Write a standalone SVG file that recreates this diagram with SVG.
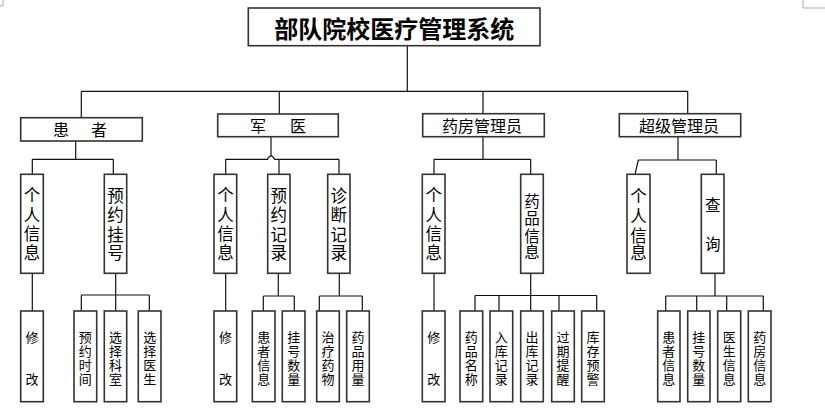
<svg xmlns="http://www.w3.org/2000/svg" width="825" height="410" viewBox="0 0 825 410">
<style>
.b{fill:#fff;stroke:#333;stroke-width:1.6}
.c{fill:none;stroke:#111;stroke-width:1.2}
.m{fill:none;stroke:#aaa;stroke-width:1}
text{font-family:"Noto Sans CJK SC","Noto Sans",sans-serif;fill:#000;text-anchor:middle;dominant-baseline:central}
.t{font-size:24px;font-weight:600}
.l1{font-size:16px}
.l2{font-size:16.5px}
.l2s{font-size:15.5px}
.l3{font-size:13px}
</style>
<rect width="825" height="410" fill="#fff"/>
<path class="m" d="M3,0V6H0M803,0V8H825"/>
<g id="connectors">
<path class="c" d="M407.3,46V91.3M81.3,91.3H687.7M81.3,91.3V117.7M279.3,91.3V114M483,91.3V113.7M687.7,91.3V113.7"/>
<path class="c" d="M75.7,141V159.3M32.3,159.3H113.3M32.3,159.3V174.3M113.3,159.3V174.3"/>
<path class="c" d="M271,136.7V155.5M225.7,159.3H267.5Q271,152.5 274.5,159.3H339M225.7,159.3V174.3M279,159.3V174.3M339,159.3V174.3"/>
<path class="c" d="M483,136.7V159.3M434,159.3H530.7M434,159.3V174.3M530.7,159.3V174.3"/>
<path class="c" d="M678,136.7V160M638.3,160H716.3M638.3,160L635,174.3M716.3,160V174.3"/>
<path class="c" d="M32.3,273.3V311M115.7,273.3V295M81.3,295H149.3M81.3,295V311M115.7,295V311M149.3,295V311"/>
<path class="c" d="M225.7,273.3V311M278.3,273.3V296M263.3,296H294.3M263.3,296V311M294.3,296V311M339.3,273.3V296M319.3,296H362.3M319.3,296V311M362.3,296V311"/>
<path class="c" d="M434,273.3V311M530.7,273.3V295.5M475,295.5H596.7M475,295.5V311M499,295.5V311M530.7,295.5V311M559,295.5V311M596.7,295.5V311"/>
<path class="c" d="M715,273.3V296M665.7,296H763.3M665.7,296V311M696.7,296V311M726.7,296V311M763.3,296V311"/>
</g>
<g id="root"><rect class="b" x="248.3" y="8" width="291.7" height="37.7"/><text class="t" x="394.2" y="27">部队院校医疗管理系统</text></g>
<g id="patient"><rect class="b" x="20.7" y="117.7" width="121.6" height="23.3"/><text class="l1" x="61" y="129.4">患</text><text class="l1" x="99" y="129.4">者</text></g>
<g id="doctor"><rect class="b" x="217.7" y="114" width="120.6" height="22.7"/><text class="l1" x="258" y="125.3">军</text><text class="l1" x="298" y="125.3">医</text></g>
<g id="pharmacist"><rect class="b" x="422.7" y="113.7" width="121.6" height="23"/><text class="l1" x="482" y="125.2">药房管理员</text></g>
<g id="superadmin"><rect class="b" x="619.3" y="113.7" width="121.4" height="23"/><text class="l1" x="679" y="125.2">超级管理员</text></g>

<g id="p-info"><rect class="b" x="20.7" y="174.3" width="22.6" height="99"/><text class="l2"><tspan x="32" y="194">个</tspan><tspan x="32" y="214">人</tspan><tspan x="32" y="233">信</tspan><tspan x="32" y="252">息</tspan></text></g>
<g id="p-reg"><rect class="b" x="104.3" y="174.3" width="22.4" height="99"/><text class="l2"><tspan x="115.5" y="195">预</tspan><tspan x="115.5" y="214">约</tspan><tspan x="115.5" y="234">挂</tspan><tspan x="115.5" y="252">号</tspan></text></g>
<g id="d-info"><rect class="b" x="214" y="174.3" width="22.7" height="99"/><text class="l2"><tspan x="225.4" y="194">个</tspan><tspan x="225.4" y="214">人</tspan><tspan x="225.4" y="233">信</tspan><tspan x="225.4" y="252">息</tspan></text></g>
<g id="d-reg"><rect class="b" x="267.7" y="174.3" width="22.3" height="99"/><text class="l2"><tspan x="278.8" y="195">预</tspan><tspan x="278.8" y="214">约</tspan><tspan x="278.8" y="234">记</tspan><tspan x="278.8" y="252">录</tspan></text></g>
<g id="d-diag"><rect class="b" x="327.7" y="174.3" width="22.3" height="99"/><text class="l2"><tspan x="338.8" y="195">诊</tspan><tspan x="338.8" y="214">断</tspan><tspan x="338.8" y="234">记</tspan><tspan x="338.8" y="252">录</tspan></text></g>
<g id="ph-info"><rect class="b" x="422.3" y="174.3" width="22.7" height="99"/><text class="l2"><tspan x="433.7" y="194">个</tspan><tspan x="433.7" y="214">人</tspan><tspan x="433.7" y="233">信</tspan><tspan x="433.7" y="252">息</tspan></text></g>
<g id="ph-drug"><rect class="b" x="520.7" y="174.3" width="22.6" height="99"/><text class="l2s"><tspan x="532" y="200">药</tspan><tspan x="532" y="217">品</tspan><tspan x="532" y="235">信</tspan><tspan x="532" y="251">息</tspan></text></g>
<g id="s-info"><rect class="b" x="627" y="174.3" width="23" height="99"/><text class="l2"><tspan x="638.5" y="195">个</tspan><tspan x="638.5" y="215">人</tspan><tspan x="638.5" y="235">信</tspan><tspan x="638.5" y="252">息</tspan></text></g>
<g id="s-query"><rect class="b" x="701.3" y="174.3" width="22.7" height="99"/><text class="l2s"><tspan x="712.7" y="204">查</tspan><tspan x="712.7" y="243">询</tspan></text></g>

<g id="p-edit"><rect class="b" x="20.7" y="311" width="22.6" height="90.7"/><text class="l3"><tspan x="32" y="336">修</tspan><tspan x="32" y="378">改</tspan></text></g>
<g id="p-time"><rect class="b" x="74" y="311" width="22.7" height="90.7"/><text class="l3"><tspan x="85.3" y="336">预</tspan><tspan x="85.3" y="350">约</tspan><tspan x="85.3" y="364">时</tspan><tspan x="85.3" y="378">间</tspan></text></g>
<g id="p-dept"><rect class="b" x="104.3" y="311" width="22.4" height="90.7"/><text class="l3"><tspan x="115.5" y="336">选</tspan><tspan x="115.5" y="350">择</tspan><tspan x="115.5" y="364">科</tspan><tspan x="115.5" y="378">室</tspan></text></g>
<g id="p-doc"><rect class="b" x="138.3" y="311" width="22.7" height="90.7"/><text class="l3"><tspan x="149.7" y="336">选</tspan><tspan x="149.7" y="350">择</tspan><tspan x="149.7" y="364">医</tspan><tspan x="149.7" y="378">生</tspan></text></g>
<g id="d-edit"><rect class="b" x="214" y="311" width="22.7" height="90.7"/><text class="l3"><tspan x="225.4" y="336">修</tspan><tspan x="225.4" y="378">改</tspan></text></g>
<g id="d-pinfo"><rect class="b" x="252.3" y="311" width="22.7" height="90.7"/><text class="l3"><tspan x="263.7" y="336">患</tspan><tspan x="263.7" y="350">者</tspan><tspan x="263.7" y="364">信</tspan><tspan x="263.7" y="378">息</tspan></text></g>
<g id="d-count"><rect class="b" x="282.3" y="311" width="22.7" height="90.7"/><text class="l3"><tspan x="293.7" y="336">挂</tspan><tspan x="293.7" y="350">号</tspan><tspan x="293.7" y="364">数</tspan><tspan x="293.7" y="378">量</tspan></text></g>
<g id="d-treat"><rect class="b" x="316.7" y="311" width="22.6" height="90.7"/><text class="l3"><tspan x="328" y="336">治</tspan><tspan x="328" y="350">疗</tspan><tspan x="328" y="364">药</tspan><tspan x="328" y="378">物</tspan></text></g>
<g id="d-dose"><rect class="b" x="346.7" y="311" width="22.6" height="90.7"/><text class="l3"><tspan x="358" y="336">药</tspan><tspan x="358" y="350">品</tspan><tspan x="358" y="364">用</tspan><tspan x="358" y="378">量</tspan></text></g>
<g id="ph-edit"><rect class="b" x="422.3" y="311" width="22.7" height="90.7"/><text class="l3"><tspan x="433.7" y="336">修</tspan><tspan x="433.7" y="378">改</tspan></text></g>
<g id="ph-name"><rect class="b" x="460" y="311" width="22.7" height="90.7"/><text class="l3"><tspan x="471.3" y="336">药</tspan><tspan x="471.3" y="350">品</tspan><tspan x="471.3" y="364">名</tspan><tspan x="471.3" y="378">称</tspan></text></g>
<g id="ph-in"><rect class="b" x="490" y="311" width="22.7" height="90.7"/><text class="l3"><tspan x="501.3" y="336">入</tspan><tspan x="501.3" y="350">库</tspan><tspan x="501.3" y="364">记</tspan><tspan x="501.3" y="378">录</tspan></text></g>
<g id="ph-out"><rect class="b" x="520.7" y="311" width="22.6" height="90.7"/><text class="l3"><tspan x="532" y="336">出</tspan><tspan x="532" y="350">库</tspan><tspan x="532" y="364">记</tspan><tspan x="532" y="378">录</tspan></text></g>
<g id="ph-expire"><rect class="b" x="551.7" y="311" width="22.6" height="90.7"/><text class="l3"><tspan x="563" y="336">过</tspan><tspan x="563" y="350">期</tspan><tspan x="563" y="364">提</tspan><tspan x="563" y="378">醒</tspan></text></g>
<g id="ph-stock"><rect class="b" x="581.7" y="311" width="22.6" height="90.7"/><text class="l3"><tspan x="593" y="336">库</tspan><tspan x="593" y="350">存</tspan><tspan x="593" y="364">预</tspan><tspan x="593" y="378">警</tspan></text></g>
<g id="s-pinfo"><rect class="b" x="657.7" y="311" width="22.3" height="90.7"/><text class="l3"><tspan x="668.8" y="336">患</tspan><tspan x="668.8" y="350">者</tspan><tspan x="668.8" y="364">信</tspan><tspan x="668.8" y="378">息</tspan></text></g>
<g id="s-count"><rect class="b" x="687.7" y="311" width="22.3" height="90.7"/><text class="l3"><tspan x="698.8" y="336">挂</tspan><tspan x="698.8" y="350">号</tspan><tspan x="698.8" y="364">数</tspan><tspan x="698.8" y="378">量</tspan></text></g>
<g id="s-dinfo"><rect class="b" x="717.7" y="311" width="23" height="90.7"/><text class="l3"><tspan x="729.2" y="336">医</tspan><tspan x="729.2" y="350">生</tspan><tspan x="729.2" y="364">信</tspan><tspan x="729.2" y="378">息</tspan></text></g>
<g id="s-phinfo"><rect class="b" x="748.3" y="311" width="22.7" height="90.7"/><text class="l3"><tspan x="759.7" y="336">药</tspan><tspan x="759.7" y="350">房</tspan><tspan x="759.7" y="364">信</tspan><tspan x="759.7" y="378">息</tspan></text></g>
</svg>
